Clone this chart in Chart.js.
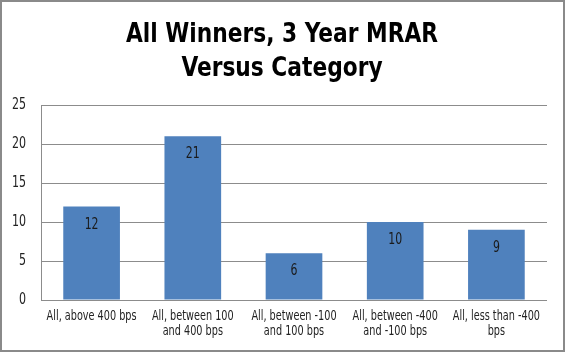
<!DOCTYPE html>
<html>
<head>
<meta charset="utf-8">
<script src="https://cdn.jsdelivr.net/npm/chart.js@4/dist/chart.umd.min.js"></script>
<style>
  html, body { margin: 0; padding: 0; background: #fff; }
  #wrap { width: 565px; height: 352px; position: relative; }
</style>
</head>
<body>
<div id="wrap"><canvas id="myChart" width="565" height="352"></canvas></div>
<script>
const chartTitle = ['All Winners, 3 Year MRAR', 'Versus Category'];
const categories = [
  ['All, above 400 bps'],
  ['All, between 100', 'and 400 bps'],
  ['All, between -100', 'and 100 bps'],
  ['All, between -400', 'and -100 bps'],
  ['All, less than -400', 'bps']
];
const winners = [12, 21, 6, 10, 9];
const yTicks = [0, 5, 10, 15, 20, 25];

const condensed = "'DejaVu Sans Condensed', 'Liberation Sans Narrow', sans-serif";

// draw text squeezed horizontally, to get closer to the narrow face of the original
function narrowText(c, text, x, y, sx) {
  c.save();
  c.translate(x, y);
  c.scale(sx, 1);
  c.fillText(text, 0, 0);
  c.restore();
}

// white background + grey frame round the whole picture
const frame = {
  id: 'frame',
  beforeDraw(chart) {
    const c = chart.ctx;
    c.save();
    c.fillStyle = '#fff';
    c.fillRect(0, 0, chart.width, chart.height);
    c.restore();
  },
  afterDraw(chart) {
    const c = chart.ctx;
    c.save();
    c.strokeStyle = '#8a8a8a';
    c.lineWidth = 2;
    c.strokeRect(1, 1, chart.width - 2, chart.height - 2);
    c.restore();
  }
};

// title, tick labels and value labels
const texts = {
  id: 'texts',
  afterDatasetsDraw(chart) {
    const c = chart.ctx;
    const xs = chart.scales.x, ys = chart.scales.y;
    c.save();
    c.textAlign = 'center';
    c.textBaseline = 'alphabetic';

    // title
    c.fillStyle = '#000';
    c.font = 'bold 26px ' + condensed;
    narrowText(c, chartTitle[0], 282, 42, 0.93);
    narrowText(c, chartTitle[1], 282, 76, 0.93);

    // y ticks
    c.fillStyle = '#222';
    c.font = '15px ' + condensed;
    c.textAlign = 'right';
    c.textBaseline = 'middle';
    yTicks.forEach(v => {
      narrowText(c, String(v), 26, ys.getPixelForValue(v), 0.82);
    });

    // x ticks
    c.font = '14px ' + condensed;
    c.textAlign = 'center';
    c.textBaseline = 'alphabetic';
    categories.forEach((lines, i) => {
      const x = xs.getPixelForValue(i);
      lines.forEach((t, j) => {
        narrowText(c, t, x, 320 + j * 15, 0.77);
      });
    });

    // value labels, just inside the top of each bar
    c.font = '16px ' + condensed;
    c.fillStyle = '#1a1a1a';
    c.textBaseline = 'middle';
    chart.getDatasetMeta(0).data.forEach((bar, i) => {
      narrowText(c, String(winners[i]), bar.x, bar.y + 18, 0.76);
    });
    c.restore();
  }
};

const ctx = document.getElementById('myChart').getContext('2d');
const myChart = new Chart(ctx, {
  type: 'bar',
  data: {
    labels: categories,
    datasets: [{
      label: 'All Winners',
      data: winners,
      backgroundColor: '#4f81bd',
      borderWidth: 0,
      categoryPercentage: 1,
      barPercentage: 0.56
    }]
  },
  options: {
    responsive: false,
    animation: false,
    layout: { padding: { left: 0, right: 18, top: 105, bottom: 0 } },
    plugins: {
      legend: { display: false },
      tooltip: { enabled: false },
      title: { display: false }
    },
    scales: {
      x: {
        grid: { display: false },
        border: { display: false },
        ticks: { display: false },
        afterFit(scale) { scale.height = 52; }
      },
      y: {
        min: 0,
        max: 25,
        grid: { color: '#8c8c8c', drawTicks: false },
        border: { display: true, color: '#8c8c8c' },
        afterBuildTicks(scale) { scale.ticks = yTicks.map(v => ({ value: v })); },
        ticks: { display: false },
        afterFit(scale) { scale.width = 41; }
      }
    }
  },
  plugins: [frame, texts]
});
</script>
</body>
</html>
